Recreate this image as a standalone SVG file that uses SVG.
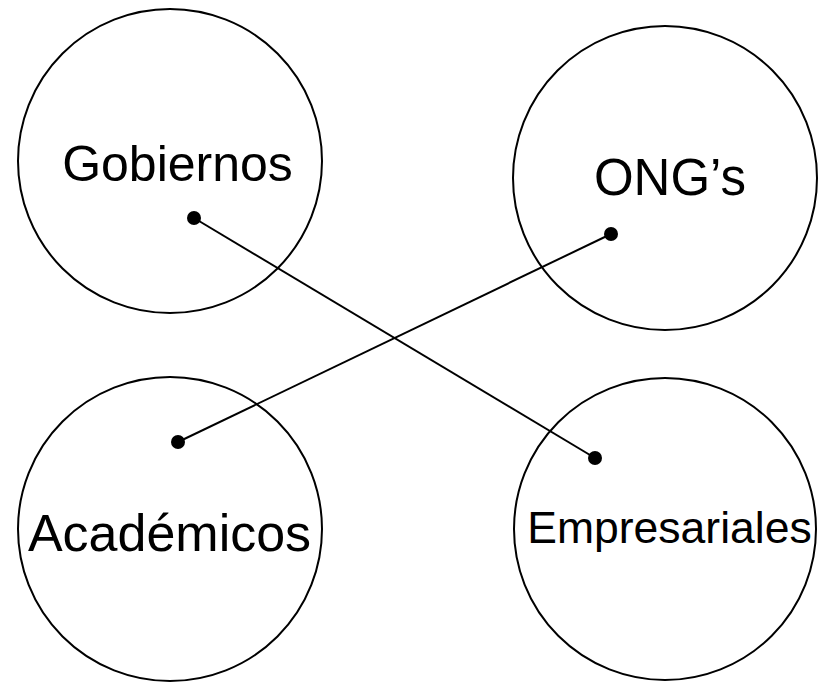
<svg xmlns="http://www.w3.org/2000/svg" width="820" height="682" viewBox="0 0 820 682">
<style>
.c{fill:none;stroke:#000;stroke-width:2}
.t{font-family:"Liberation Sans",Arial,sans-serif;fill:#000;text-anchor:middle}
.l{stroke:#000;stroke-width:2;fill:none}
.d{fill:#000}
</style>
<rect width="820" height="682" fill="#fff"/>
<g id="gobiernos">
<circle class="c" cx="170" cy="161" r="152"/>
<text class="t" x="177.5" y="181" font-size="50">Gobiernos</text>
</g>
<g id="ongs">
<circle class="c" cx="665" cy="178" r="152"/>
<text class="t" x="670" y="195" font-size="51">ONG’s</text>
</g>
<g id="academicos">
<circle class="c" cx="170" cy="529" r="152"/>
<text class="t" x="169.5" y="551" font-size="52">Académicos</text>
</g>
<g id="empresariales">
<circle class="c" cx="665" cy="529" r="151"/>
<text class="t" x="669.5" y="543" font-size="44.5">Empresariales</text>
</g>
<g id="connectors">
<line class="l" x1="194" y1="218" x2="595" y2="458"/>
<line class="l" x1="611" y1="234" x2="178" y2="442"/>
<circle class="d" cx="194" cy="218" r="7"/>
<circle class="d" cx="595" cy="458" r="7"/>
<circle class="d" cx="611" cy="234" r="7"/>
<circle class="d" cx="178" cy="442" r="7"/>
</g>
</svg>
